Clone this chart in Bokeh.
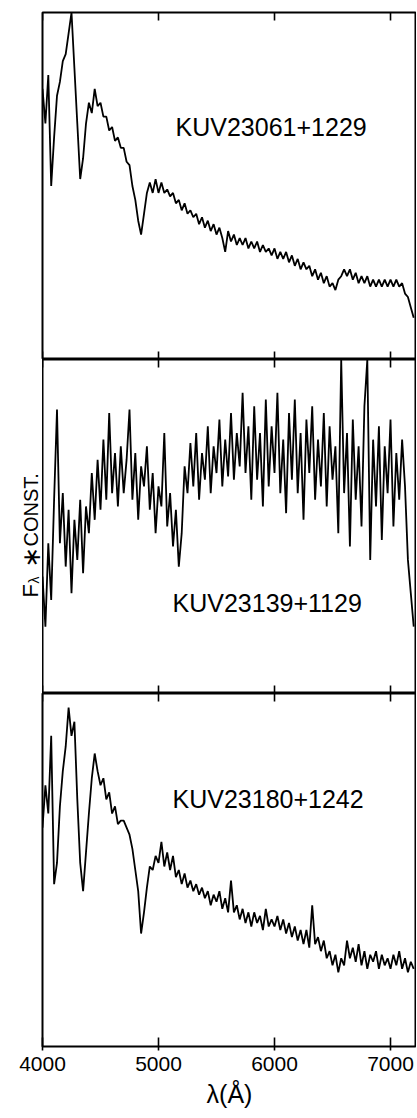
import math
from bokeh.plotting import figure
from bokeh.layouts import column, row
from bokeh.models import LinearAxis, FixedTicker, Range1d
from bokeh.core.properties import value
from bokeh.embed import file_html
from bokeh.resources import INLINE

# ---------------- data ----------------
wl_start = 4000
wl_step = 25

flux_23061 = [
    78, 68, 82, 50,
    64, 76, 80, 86,
    88, 94, 100, 84,
    68, 52, 58, 68,
    74, 71, 78, 73,
    74, 70, 70, 66,
    67, 63, 64, 61,
    61, 57, 56, 50,
    46, 40, 36, 42,
    48, 51, 48, 52,
    48, 51, 48, 49,
    47, 48, 45, 46,
    43, 45, 42, 43,
    41, 42, 39, 41,
    38, 40, 37, 39,
    36, 38, 35, 31,
    37, 34, 36, 33,
    35, 33, 35, 32,
    34, 32, 34, 31,
    33, 31, 32, 30,
    32, 29, 31, 29,
    31, 28, 30, 27,
    29, 26, 28, 26,
    27, 24, 26, 23,
    25, 22, 24, 21,
    22, 20, 23, 24,
    26, 24, 26, 23,
    25, 22, 24, 22,
    24, 21, 23, 21,
    23, 21, 23, 21,
    23, 21, 23, 21,
    22, 19, 18, 15,
    12,
]

flux_23139 = [
    35, 20, 45, 28,
    58, 85, 45, 60,
    38, 55, 30, 52,
    40, 58, 36, 56,
    48, 66, 52, 70,
    55, 76, 58, 84,
    60, 72, 56, 74,
    60, 70, 85, 58,
    72, 52, 68, 62,
    74, 55, 66, 48,
    62, 56, 78, 50,
    60, 44, 55, 38,
    48, 68, 60, 75,
    62, 78, 58, 72,
    64, 80, 60, 74,
    66, 82, 62, 76,
    65, 84, 64, 78,
    68, 90, 66, 80,
    58, 86, 64, 78,
    56, 88, 62, 80,
    66, 90, 60, 76,
    54, 84, 64, 88,
    60, 78, 52, 82,
    66, 86, 58, 76,
    62, 84, 56, 80,
    64, 74, 48, 100,
    60, 78, 44, 82,
    58, 74, 50, 86,
    100, 40, 76, 56,
    80, 46, 74, 60,
    82, 50, 72, 58,
    76, 62, 40, 30,
    20,
]

flux_23180 = [
    62, 74, 66, 88,
    46, 52, 68, 78,
    85, 96, 88, 92,
    70, 52, 44, 55,
    66, 76, 83, 78,
    74, 76, 70, 72,
    66, 68, 63, 64,
    64, 62, 60, 56,
    50, 44, 32, 38,
    45, 51, 50, 54,
    52, 58, 51, 55,
    50, 54, 48, 50,
    46, 49, 45, 47,
    44, 46, 43, 45,
    42, 44, 40, 43,
    41, 44, 39, 42,
    38, 47, 38, 40,
    36, 39, 35, 38,
    34, 38, 35, 37,
    33, 39, 34, 36,
    34, 37, 33, 36,
    32, 35, 31, 34,
    30, 33, 29, 33,
    28, 40, 29, 31,
    27, 30, 25, 27,
    23, 26, 21, 25,
    23, 30, 25, 28,
    24, 29, 23, 27,
    22, 26, 24, 27,
    22, 26, 23, 25,
    22, 26, 23, 27,
    22, 25, 21, 24,
    22,
]

star_names = ["KUV23061+1229", "KUV23139+1129", "KUV23180+1242"]
name_x = [5147, 5121, 5121]
name_y = [67, 27, 70]
tick_values = [4000, 5000, 6000, 7000]
x_label = "λ(Å)"
y_label_parts = ["F", "λ", "∗", "CONST."]

wavelength = [wl_start + wl_step * i for i in range(len(flux_23061))]

FONT = "Liberation Sans"
LEFT = 42
MID_H = 334


def panel(flux, name, nx, ny, frame_h, border_top, border_bottom, border_left, labelled):
    p = figure(frame_width=374, frame_height=frame_h,
               x_range=Range1d(4000, 7224), y_range=Range1d(0, 100),
               output_backend="svg", toolbar_location=None,
               x_axis_location=None, y_axis_location=None,
               min_border_left=border_left, min_border_right=0,
               min_border_top=border_top, min_border_bottom=border_bottom,
               background_fill_color="white", border_fill_color="white",
               outline_line_color="black", outline_line_width=2)
    p.grid.visible = False
    # inward tick marks on the panel's top edge (and bottom edge if no axis)
    p.ray(x=tick_values, y=[100] * len(tick_values), length=8,
          angle=-math.pi / 2, length_units="screen",
          line_color="black", line_width=1.6)
    if not labelled:
        p.ray(x=tick_values, y=[0] * len(tick_values), length=8,
              angle=math.pi / 2, length_units="screen",
              line_color="black", line_width=1.6)
    else:
        ax = LinearAxis(ticker=FixedTicker(ticks=tick_values))
        ax.axis_line_color = None
        ax.major_tick_in = 9
        ax.major_tick_out = 4
        ax.major_tick_line_width = 1.6
        ax.major_tick_line_color = "black"
        ax.minor_tick_line_color = None
        ax.major_label_text_font = FONT
        ax.major_label_text_font_size = "21px"
        ax.major_label_text_color = "black"
        ax.major_label_standoff = 6
        ax.axis_label = x_label
        ax.axis_label_text_font = FONT
        ax.axis_label_text_font_size = "25px"
        ax.axis_label_text_font_style = "normal"
        ax.axis_label_text_color = "black"
        ax.axis_label_standoff = 6
        p.add_layout(ax, "below")
    p.line(wavelength, flux, line_color="black", line_width=1.8)
    p.text(x=[nx], y=[ny], text=[name], text_font=value(FONT),
           text_font_size="25px", text_align="left", text_baseline="alphabetic",
           text_color="black")
    return p


p1 = panel(flux_23061, star_names[0], name_x[0], name_y[0], 347, 12, 0, LEFT, False)
p2 = panel(flux_23139, star_names[1], name_x[1], name_y[1], MID_H, 0, 0, 0, False)
p3 = panel(flux_23180, star_names[2], name_x[2], name_y[2], 353, 0, 72, LEFT, True)

# narrow strip left of the middle panel that carries the rotated y-axis title
lab = figure(frame_width=LEFT, frame_height=MID_H,
             x_range=Range1d(0, LEFT), y_range=Range1d(0, MID_H),
             output_backend="svg", toolbar_location=None,
             x_axis_location=None, y_axis_location=None,
             min_border=0, outline_line_color=None,
             background_fill_color="white", border_fill_color="white")
lab.grid.visible = False
lab.text(x=[30], y=[96], text=[y_label_parts[0]], angle=math.pi / 2,
         text_font=value(FONT), text_font_size="22px", text_align="left",
         text_baseline="alphabetic", text_color="black")
lab.text(x=[33], y=[110], text=[y_label_parts[1]], angle=math.pi / 2,
         text_font=value(FONT), text_font_size="14px", text_align="left",
         text_baseline="alphabetic", text_color="black")
lab.text(x=[31], y=[126], text=[y_label_parts[2]], angle=math.pi / 2,
         text_font=value("DejaVu Sans"), text_font_size="25px", text_align="left",
         text_baseline="alphabetic", text_color="black")
lab.text(x=[30], y=[147], text=[y_label_parts[3]], angle=math.pi / 2,
         text_font=value(FONT), text_font_size="20px", text_align="left",
         text_baseline="alphabetic", text_color="black")

layout = column(p1, row(lab, p2, spacing=0), p3, spacing=0)

with open("out.html", "w") as f:
    f.write(file_html(layout, INLINE, "spectra"))
